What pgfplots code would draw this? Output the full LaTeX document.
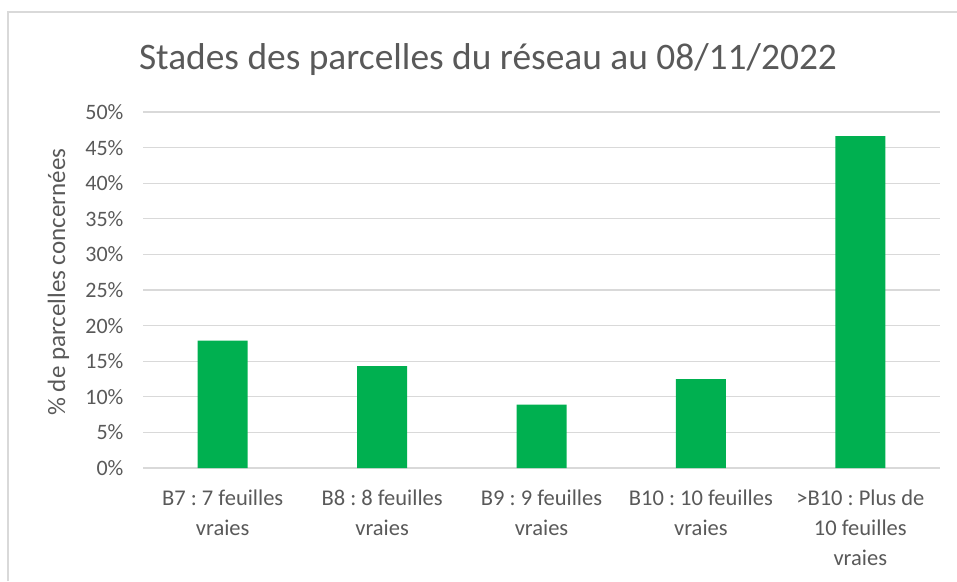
\documentclass[border=0pt]{standalone}
\usepackage{pgfplots}
\pgfplotsset{compat=1.18}
\usepackage{fontspec}
\setmainfont{Carlito}
\frenchspacing
\definecolor{txt}{HTML}{595959}
\definecolor{gridc}{HTML}{D9D9D9}
\definecolor{barc}{HTML}{00B050}
\begin{document}
\begin{tikzpicture}[x=1pt,y=1pt]
\path[use as bounding box] (0,0) rectangle (957,581);
\draw[gridc, line width=2pt] (8,0) -- (8,569) -- (957,569);
\node[txt, font=\fontsize{37.4}{44}\selectfont] at (488,521) {Stades des parcelles du réseau au 08/11/2022};
\begin{axis}[
  at={(143pt,113pt)}, anchor=south west,
  scale only axis, width=797pt, height=356pt,
  xmin=-0.5, xmax=4.5, ymin=0, ymax=50,
  ytick={0,5,...,50},
  yticklabel={\pgfmathprintnumber{\tick}\%},
  /pgf/number format/assume math mode=true,
  xtick=data,
  xticklabels={{B7 : 7 feuilles\\vraies},{B8 : 8 feuilles\\vraies},{B9 : 9 feuilles\\vraies},{B10 : 10 feuilles\\vraies},{>B10 : Plus de\\10 feuilles\\vraies}},
  xticklabel style={align=center, font=\fontsize{22.5}{30}\selectfont, text=txt, anchor=north, yshift=-18pt},
  yticklabel style={font=\fontsize{22}{26}\selectfont, text=txt, anchor=east, xshift=-16pt},
  ylabel={\% de parcelles concernées},
  ylabel style={font=\fontsize{25}{30}\selectfont, text=txt, at={(axis description cs:-0.106,0.522)}, anchor=center},
  ymajorgrids, grid style={gridc, line width=1.3pt},
  axis x line*=bottom, axis y line*=left,
  x axis line style={gridc, line width=1.3pt, -},
  y axis line style={draw=none},
  major tick length=0pt,
  ybar, bar width=50pt,
]
\addplot[fill=barc, draw=none] coordinates {(0,17.9) (1,14.3) (2,8.9) (3,12.5) (4,46.6)};
\end{axis}
\end{tikzpicture}
\end{document}
